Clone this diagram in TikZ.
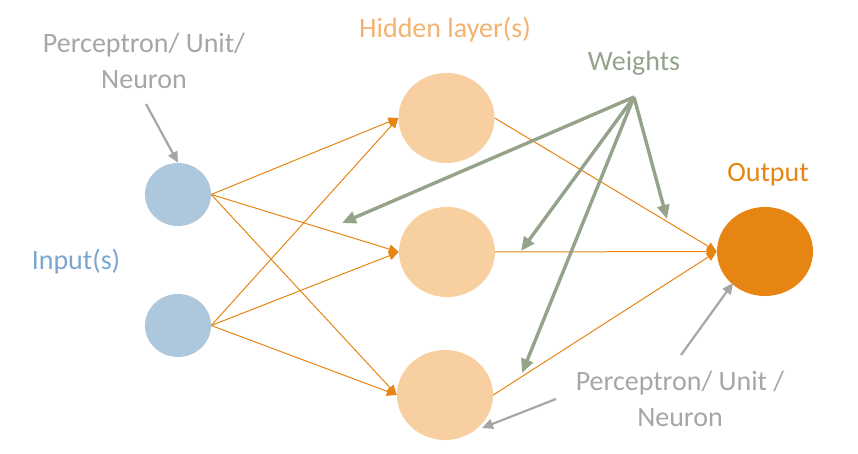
\documentclass[tikz,border=0pt]{standalone}
\usepackage{fontspec}
\setmainfont{Carlito}
\usetikzlibrary{shapes.geometric,arrows.meta}
\definecolor{inblue}{RGB}{173,200,221}
\definecolor{hidfill}{RGB}{248,207,160}
\definecolor{outor}{RGB}{230,133,18}
\definecolor{wgreen}{RGB}{149,163,138}
\definecolor{lgray}{RGB}{166,166,166}
\definecolor{intext}{RGB}{123,166,207}
\definecolor{hidtext}{RGB}{244,178,112}
\tikzset{
  neuron/.style={ellipse,inner sep=0pt},
  innode/.style={neuron,fill=inblue,minimum width=66pt,minimum height=63pt},
  hidnode/.style={neuron,fill=hidfill,minimum width=96pt,minimum height=90pt},
  outnode/.style={neuron,fill=outor,minimum width=96pt,minimum height=89pt},
  conn/.style={draw=outor,line width=1pt,-{Triangle[length=10pt,width=9pt]}},
  warrow/.style={draw=wgreen,line width=3.4pt,-{Triangle[length=14pt,width=12pt]}},
  garrow/.style={draw=lgray,line width=2.2pt,-{Triangle[length=11pt,width=10pt]}},
  lbl/.style={font=\fontsize{28}{36}\selectfont,inner sep=0pt,align=center}
}
\begin{document}
\begin{tikzpicture}[x=1pt,y=-1pt]
\useasboundingbox (0,0) rectangle (858,454);
% nodes
\node[innode] (in1) at (178,194.5) {};
\node[innode] (in2) at (178,325.5) {};
\node[hidnode] (h1) at (446.5,118) {};
\node[hidnode] (h2) at (447,252) {};
\node[hidnode] (h3) at (445,395) {};
\node[outnode] (out) at (765,251.5) {};
% labels
\node[lbl,text=lgray,anchor=base] (tl) at (144,89) {Perceptron/ Unit/\\Neuron};
\node[lbl,text=hidtext,anchor=base] (hl) at (445,38) {Hidden layer(s)};
\node[lbl,text=wgreen,anchor=base] (wl) at (634,71) {Weights};
\node[lbl,text=outor,anchor=base] (ol) at (768,182) {Output};
\node[lbl,text=intext,anchor=base] (il) at (76,269) {Input(s)};
\node[lbl,text=lgray,anchor=base] (bl) at (680,426) {Perceptron/ Unit /\\Neuron};
% connections
\foreach \s in {in1,in2}{
  \foreach \t in {h1,h2,h3}{
    \draw[conn] (\s.east) -- (\t.west);
  }
}
\foreach \s in {h1,h2,h3}{
  \draw[conn] (\s.east) -- (out.west);
}
% weights
\coordinate (w) at (634,97);
\coordinate (wa) at (342,223);
\coordinate (wb) at (667,219);
\coordinate (wc) at (521,251);
\coordinate (wd) at (522,373);
\foreach \t in {wa,wb,wc,wd}{
  \draw[warrow] (w) -- (\t);
}
% gray pointers
\coordinate (g1s) at (146,104);
\draw[garrow] (g1s) -- (in1.north);
\coordinate (g2s) at (556,399);
\coordinate (g2e) at (482,428);
\draw[garrow] (g2s) -- (g2e);
\coordinate (g3s) at (681,355);
\coordinate (g3e) at (733,283);
\draw[garrow] (g3s) -- (g3e);
\end{tikzpicture}
\end{document}
